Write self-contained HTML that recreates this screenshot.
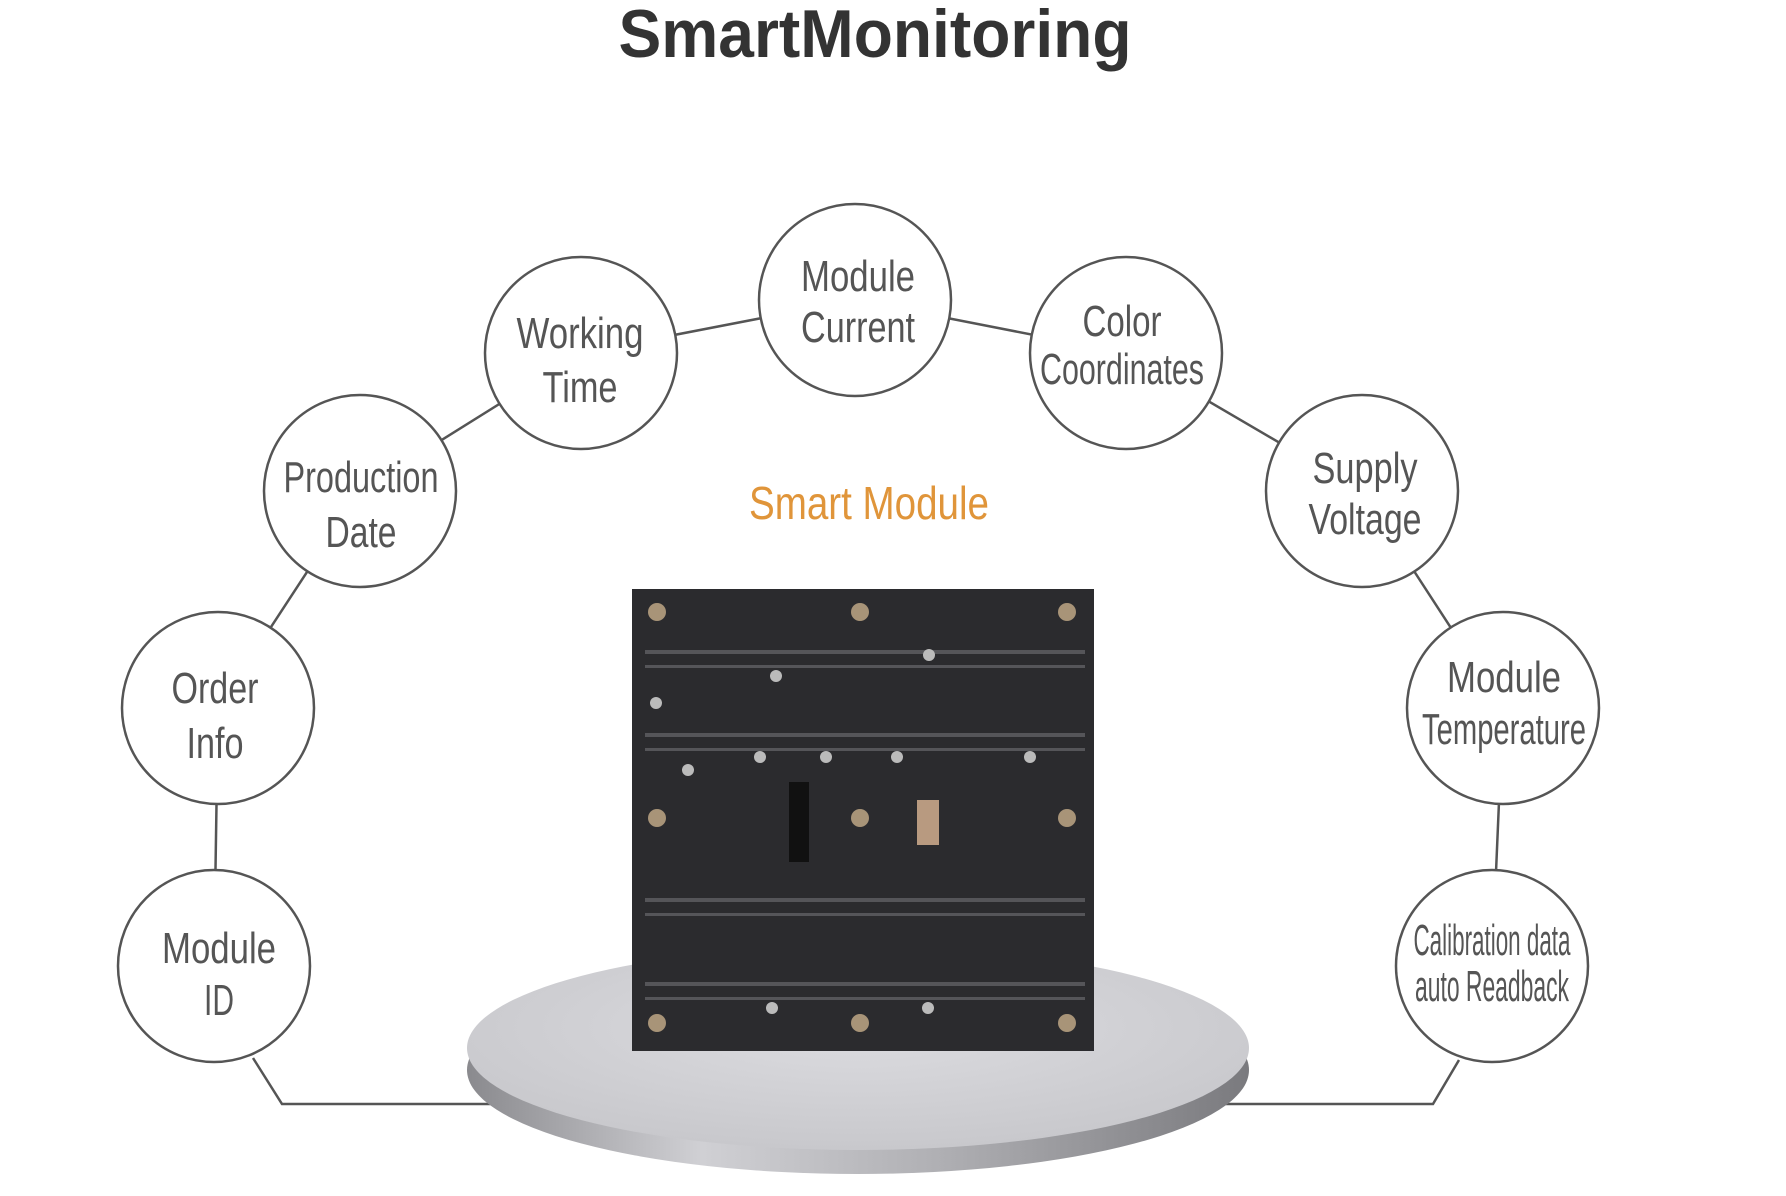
<!DOCTYPE html>
<html><head><meta charset="utf-8"><style>
html,body{margin:0;padding:0;background:#fff;}
svg{display:block;}
.t{font-family:"Liberation Sans Narrow","Liberation Sans",sans-serif;fill:#555;font-size:44px;text-anchor:middle;}
</style></head><body>
<svg width="1786" height="1196" viewBox="0 0 1786 1196" xmlns="http://www.w3.org/2000/svg">
<defs>
<linearGradient id="edge" x1="0" x2="1" y1="0" y2="0">
<stop offset="0" stop-color="#8a8a8e"/><stop offset="0.3" stop-color="#d0d0d4"/><stop offset="0.6" stop-color="#b0b0b4"/><stop offset="1" stop-color="#7a7a7e"/>
</linearGradient>
<radialGradient id="top" cx="0.5" cy="0.4" r="0.6">
<stop offset="0" stop-color="#dcdce0"/><stop offset="1" stop-color="#c8c8cc"/>
</radialGradient>
</defs>
<text x="875" y="57" font-family="Liberation Sans, sans-serif" font-weight="bold" font-size="68" fill="#333" text-anchor="middle" textLength="513" lengthAdjust="spacingAndGlyphs">SmartMonitoring</text>
<g stroke="#555" stroke-width="2.5" fill="none">
<path d="M253 1058 L282 1104 L490 1104"/>
<path d="M1459 1060 L1433 1104 L1226 1104"/>
<path d="M214 966 L218 708 L360 491 L581 353 L855 300 L1126 353 L1362 491 L1503 708 L1492 966" stroke-linejoin="round"/>
</g>
<!-- platform -->
<ellipse cx="858" cy="1070" rx="391" ry="104" fill="url(#edge)"/>
<ellipse cx="858" cy="1048" rx="391" ry="102" fill="url(#top)"/>
<!-- board -->
<rect x="632" y="589" width="462" height="462" fill="#2b2b2e"/>
<g fill="#5a5a5e" opacity="0.9">
<rect x="645" y="650" width="440" height="4"/><rect x="645" y="665" width="440" height="3"/>
<rect x="645" y="733" width="440" height="4"/><rect x="645" y="748" width="440" height="3"/>
<rect x="645" y="898" width="440" height="4"/><rect x="645" y="913" width="440" height="3"/>
<rect x="645" y="982" width="440" height="4"/><rect x="645" y="997" width="440" height="3"/>
</g>
<rect x="789" y="782" width="20" height="80" fill="#111"/>
<rect x="917" y="800" width="22" height="45" fill="#b89a80"/>
<g fill="#a89478">
<circle cx="657" cy="612" r="9"/><circle cx="860" cy="612" r="9"/><circle cx="1067" cy="612" r="9"/>
<circle cx="657" cy="818" r="9"/><circle cx="860" cy="818" r="9"/><circle cx="1067" cy="818" r="9"/>
<circle cx="657" cy="1023" r="9"/><circle cx="860" cy="1023" r="9"/><circle cx="1067" cy="1023" r="9"/>
</g>
<g fill="#bbb"><circle cx="656" cy="703" r="6"/><circle cx="776" cy="676" r="6"/><circle cx="929" cy="655" r="6"/><circle cx="688" cy="770" r="6"/><circle cx="760" cy="757" r="6"/><circle cx="826" cy="757" r="6"/><circle cx="897" cy="757" r="6"/><circle cx="1030" cy="757" r="6"/><circle cx="772" cy="1008" r="6"/><circle cx="928" cy="1008" r="6"/></g>
<text x="869" y="519" font-family="Liberation Sans Narrow, Liberation Sans, sans-serif" font-size="46" fill="#e0953a" text-anchor="middle" textLength="240" lengthAdjust="spacingAndGlyphs">Smart Module</text>
<g fill="#fff" stroke="#555" stroke-width="2.5">
<circle cx="855" cy="300" r="96"/><circle cx="581" cy="353" r="96"/><circle cx="1126" cy="353" r="96"/>
<circle cx="360" cy="491" r="96"/><circle cx="1362" cy="491" r="96"/>
<circle cx="218" cy="708" r="96"/><circle cx="1503" cy="708" r="96"/>
<circle cx="214" cy="966" r="96"/><circle cx="1492" cy="966" r="96"/>
</g>
<text class="t" x="858" y="291" textLength="114" lengthAdjust="spacingAndGlyphs">Module</text>
<text class="t" x="858" y="342" textLength="114" lengthAdjust="spacingAndGlyphs">Current</text>
<text class="t" x="580" y="348" textLength="127" lengthAdjust="spacingAndGlyphs">Working</text>
<text class="t" x="580" y="402" textLength="75" lengthAdjust="spacingAndGlyphs">Time</text>
<text class="t" x="1122" y="336" textLength="79" lengthAdjust="spacingAndGlyphs">Color</text>
<text class="t" x="1122" y="384" textLength="164" lengthAdjust="spacingAndGlyphs">Coordinates</text>
<text class="t" x="361" y="492" textLength="155" lengthAdjust="spacingAndGlyphs">Production</text>
<text class="t" x="361" y="547" textLength="71" lengthAdjust="spacingAndGlyphs">Date</text>
<text class="t" x="1365" y="483" textLength="105" lengthAdjust="spacingAndGlyphs">Supply</text>
<text class="t" x="1365" y="534" textLength="113" lengthAdjust="spacingAndGlyphs">Voltage</text>
<text class="t" x="215" y="703" textLength="87" lengthAdjust="spacingAndGlyphs">Order</text>
<text class="t" x="215" y="758" textLength="57" lengthAdjust="spacingAndGlyphs">Info</text>
<text class="t" x="1504" y="692" textLength="114" lengthAdjust="spacingAndGlyphs">Module</text>
<text class="t" x="1504" y="744" textLength="164" lengthAdjust="spacingAndGlyphs">Temperature</text>
<text class="t" x="219" y="963" textLength="114" lengthAdjust="spacingAndGlyphs">Module</text>
<text class="t" x="219" y="1015" textLength="30" lengthAdjust="spacingAndGlyphs">ID</text>
<text class="t" x="1492" y="955" font-size="36" textLength="157" lengthAdjust="spacingAndGlyphs">Calibration data</text>
<text class="t" x="1492" y="1001" font-size="36" textLength="154" lengthAdjust="spacingAndGlyphs">auto Readback</text>
</svg>
</body></html>
